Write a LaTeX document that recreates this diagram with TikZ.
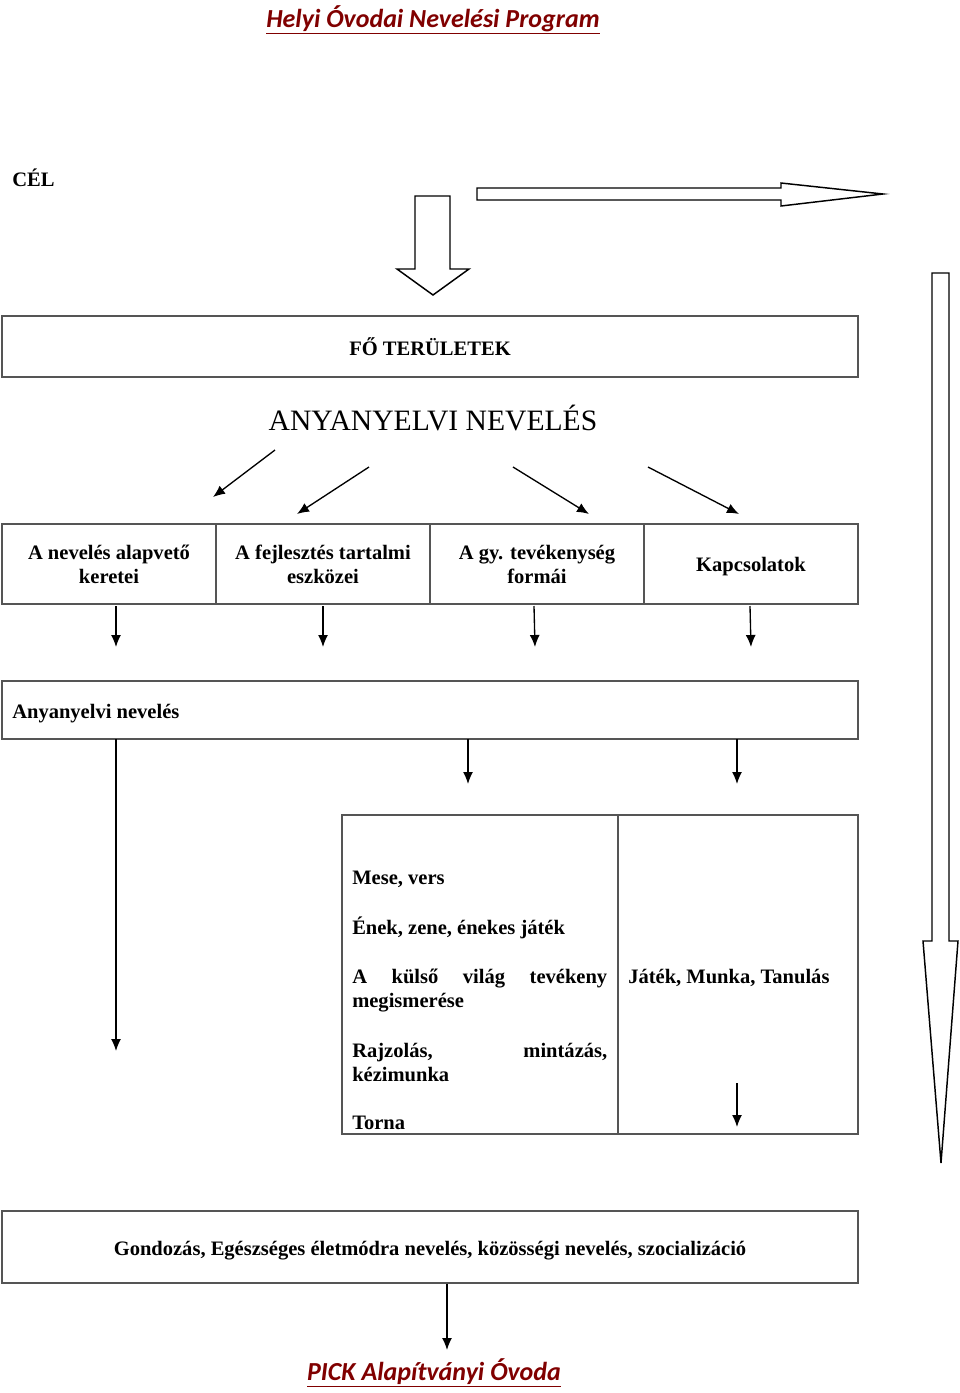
\documentclass[tikz,border=0pt]{standalone}
\usepackage{fontspec}
\setmainfont{Liberation Serif}
\newfontfamily\calib{Carlito}
\usetikzlibrary{arrows.meta}
\definecolor{titlered}{RGB}{128,0,0}
\definecolor{boxgray}{RGB}{85,85,85}
\newcommand{\btxt}{\fontsize{15.4}{18}\selectfont\bfseries}
\begin{document}
\begin{tikzpicture}[x=0.75pt,y=-0.75pt,
  box/.style={draw=boxgray, line width=1pt, inner sep=0pt, font=\btxt, align=center},
  arr/.style={-{Latex[length=9pt,width=7.5pt]}, line width=1pt, black},
  blockarrow/.style={draw=black, line width=1.1pt, fill=white, line join=miter},
  ttl/.style={font=\calib\fontsize{19.5}{22}\selectfont\bfseries\itshape, text=titlered, inner sep=0pt},
  lbl/.style={font=\btxt, inner sep=0pt}]
\useasboundingbox (0,0) rectangle (960,1393);

% titles
\node[ttl, anchor=base] (title) at (433,27) {\underline{Helyi Óvodai Nevelési Program}};
\node[ttl, anchor=base] (footer) at (434,1380) {\underline{PICK Alapítványi Óvoda}};

\node[lbl, anchor=base west] (cel) at (12,186) {CÉL};

% block arrows
\draw[blockarrow] (415,196) -- (450,196) -- (450,269) -- (469,269) -- (433,295) -- (397,269) -- (415,269) -- cycle;
\draw[blockarrow] (477,188) -- (781,188) -- (781,183) -- (883,194) -- (781,206) -- (781,200) -- (477,200) -- cycle;
\draw[blockarrow] (932,273) -- (949,273) -- (949,941) -- (958,941) -- (941,1163) -- (923,941) -- (932,941) -- cycle;

% main areas box
\node[box, minimum width=642pt, minimum height=45.75pt] (fo) at (430,346.5) {FŐ TERÜLETEK};
\node[inner sep=0pt, font=\fontsize{22.2}{26}\selectfont, anchor=base] (anyt) at (433,430) {ANYANYELVI NEVELÉS};

% four boxes
\node[box, minimum width=160.5pt, minimum height=60pt] (b1) at (109,564) {A nevelés alapvető\\keretei};
\node[box, minimum width=160.5pt, minimum height=60pt] (b2) at (323,564) {A fejlesztés tartalmi\\eszközei};
\node[box, minimum width=160.5pt, minimum height=60pt] (b3) at (537,564) {A gy. tevékenység\\formái};
\node[box, minimum width=160.5pt, minimum height=60pt] (b4) at (751,564) {};
\node[lbl, anchor=base] (b4l) at (751,571) {Kapcsolatok};

% diagonal arrows
\coordinate (d1s) at (275,450); \coordinate (d1e) at (213,497);
\coordinate (d2s) at (369,467); \coordinate (d2e) at (297,514);
\coordinate (d3s) at (513,467); \coordinate (d3e) at (589,514);
\coordinate (d4s) at (648,467); \coordinate (d4e) at (739,514);
\draw[arr] (d1s) -- (d1e);
\draw[arr] (d2s) -- (d2e);
\draw[arr] (d3s) -- (d3e);
\draw[arr] (d4s) -- (d4e);

% down arrows under the four boxes
\coordinate (v1s) at (116,606); \coordinate (v1e) at (116,647);
\coordinate (v2s) at (323,606); \coordinate (v2e) at (323,647);
\coordinate (v3s) at (534,606); \coordinate (v3e) at (535,647);
\coordinate (v4s) at (750,606); \coordinate (v4e) at (751,647);
\draw[arr] (v1s) -- (v1e);
\draw[arr] (v2s) -- (v2e);
\draw[arr] (v3s) -- (v3e);
\draw[arr] (v4s) -- (v4e);

% Anyanyelvi neveles box
\node[box, minimum width=642pt, minimum height=43.5pt] (anyb) at (430,710) {};
\node[lbl, anchor=base west] (anyl) at (12,718) {Anyanyelvi nevelés};

\coordinate (a1s) at (116,739); \coordinate (a1e) at (116,1051);
\coordinate (a2s) at (468,739); \coordinate (a2e) at (468,784);
\coordinate (a3s) at (737,739); \coordinate (a3e) at (737,784);
\draw[arr] (a1s) -- (a1e);
\draw[arr] (a2s) -- (a2e);
\draw[arr] (a3s) -- (a3e);

% table
\node[box, minimum width=207pt, minimum height=239.25pt] (cellL) at (480,974.5) {};
\node[box, minimum width=180pt, minimum height=239.25pt] (cellR) at (738,974.5) {};

\node[lbl, anchor=base west] (t1) at (352,884) {Mese, vers};
\node[lbl, anchor=base west] (t2) at (352,934) {Ének, zene, énekes játék};
\node[lbl, anchor=base west, align=left] (t3) at (352,1007) {\makebox[191.25pt][s]{A külső világ tevékeny}\\megismerése};
\node[lbl, anchor=base west, align=left] (t4) at (352,1081) {\makebox[191.25pt][s]{Rajzolás, mintázás,}\\kézimunka};
\node[lbl, anchor=base west] (t5) at (352,1129) {Torna};
\node[lbl, anchor=base west] (t6) at (628,983) {Játék, Munka, Tanulás};

\coordinate (r1s) at (737,1083); \coordinate (r1e) at (737,1127);
\draw[arr] (r1s) -- (r1e);

% bottom box
\node[box, minimum width=642pt, minimum height=54pt] (bot) at (430,1247) {};
\node[lbl, anchor=base] (botl) at (430,1255) {Gondozás, Egészséges életmódra nevelés, közösségi nevelés, szocializáció};
\coordinate (g1e) at (447,1350);
\draw[arr] (bot.south -| g1e) -- (g1e);
\end{tikzpicture}
\end{document}
